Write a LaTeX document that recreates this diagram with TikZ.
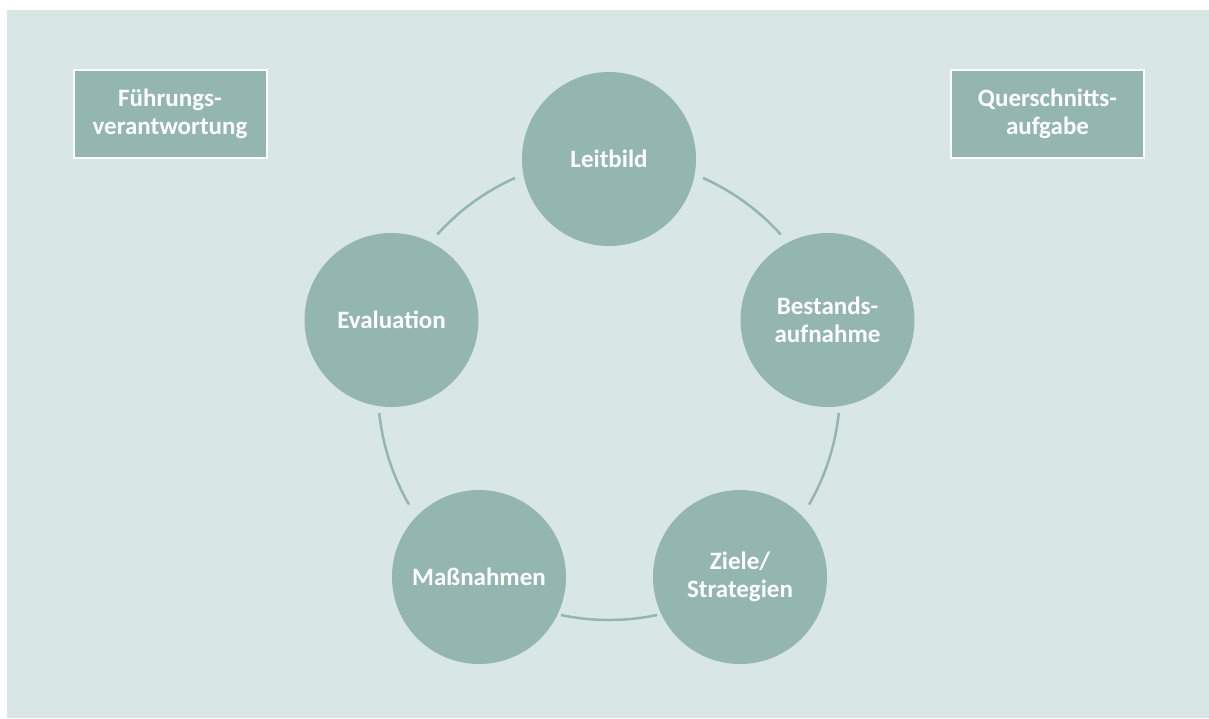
\documentclass[tikz,border=0pt]{standalone}
\usepackage{fontspec}
\setmainfont{Carlito}
\usetikzlibrary{calc}
\definecolor{bgteal}{HTML}{D8E7E5}
\definecolor{fillteal}{HTML}{93B6B1}
\begin{document}
\begin{tikzpicture}[x=1pt,y=-1pt,
  stage/.style={circle,fill=fillteal,minimum size=174pt,inner sep=0pt,
    text=white,font=\bfseries\fontsize{25}{28}\selectfont,align=center},
  sidebox/.style={rectangle,fill=fillteal,draw=white,line width=2pt,
    minimum width=193pt,minimum height=88pt,inner sep=0pt,
    text=white,font=\bfseries\fontsize{25}{28}\selectfont,align=center},
  ring/.style={draw=fillteal,line width=2.5pt}]
\useasboundingbox (0,0) rectangle (1209,718);
\fill[bgteal] (7,10) rectangle (1209,718);
\coordinate (c) at (609,389);
% ring arcs (page angles, y up)
\draw[ring] ($(c)+(66:231pt)$) arc[start angle=66,end angle=42,radius=231pt];
\draw[ring] ($(c)+(-6:231pt)$) arc[start angle=-6,end angle=-30,radius=231pt];
\draw[ring] ($(c)+(-78:231pt)$) arc[start angle=-78,end angle=-102,radius=231pt];
\draw[ring] ($(c)+(-150:231pt)$) arc[start angle=-150,end angle=-174,radius=231pt];
\draw[ring] ($(c)+(138:231pt)$) arc[start angle=138,end angle=114,radius=231pt];
% stages
\node[stage] (L) at (609,159) {Leitbild};
\node[stage] (B) at (827.5,320) {Bestands-\\aufnahme};
\node[stage] (Z) at (740,577) {Ziele/\\Strategien};
\node[stage] (M) at (479,577) {Maßnahmen};
\node[stage] (E) at (391.5,320) {Evaluation};
% side boxes
\node[sidebox] (F) at (170,113.5) {Führungs-\\verantwortung};
\node[sidebox] (Q) at (1047.5,113.5) {Querschnitts-\\aufgabe};
\end{tikzpicture}
\end{document}
